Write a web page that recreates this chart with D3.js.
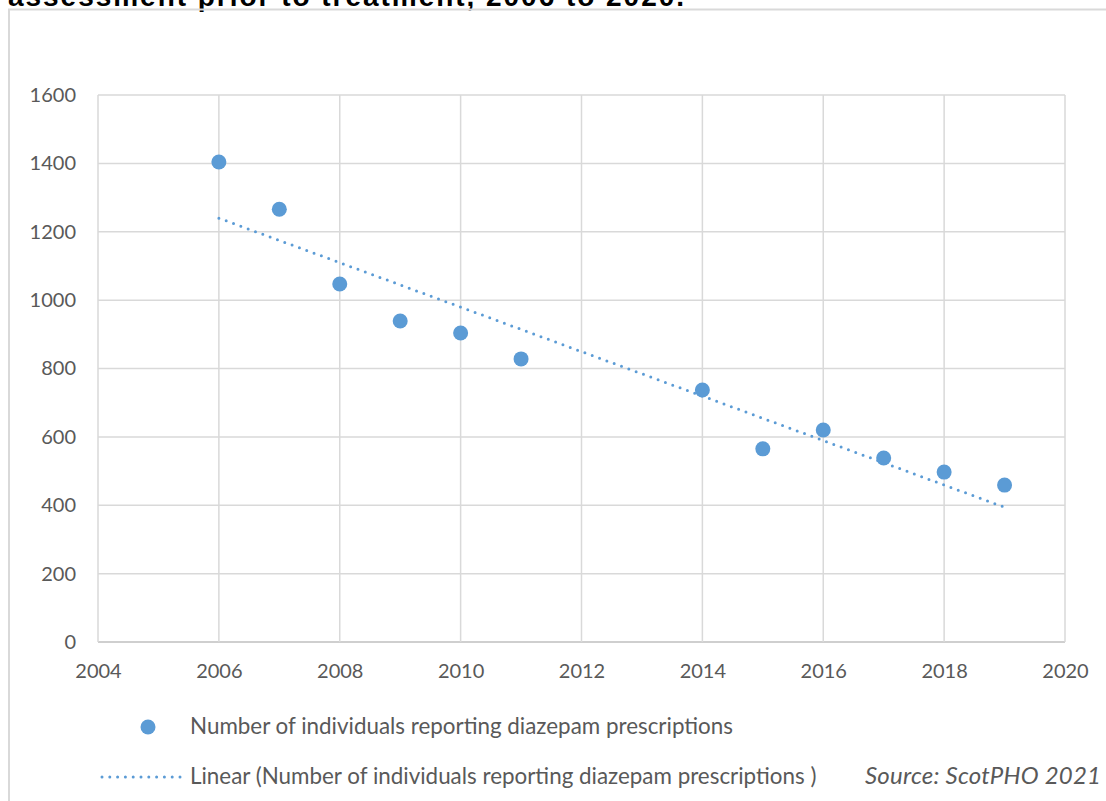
<!DOCTYPE html>
<html>
<head>
<meta charset="utf-8">
<script src="https://cdn.jsdelivr.net/npm/d3@7"></script>
<style>
	body { margin: 0; background: #fff; }
	svg { display: block; }
	text { font-family: Lato, "Open Sans", sans-serif; fill: #595959; }
</style>
</head>
<body>
<svg id="chart" width="1106" height="801"></svg>
<script>
// Data
const years = [2006, 2007, 2008, 2009, 2010, 2011, 2014, 2015, 2016, 2017, 2018, 2019];
const counts = [1404, 1266, 1047, 939, 904, 828, 737, 565, 620, 538, 497, 459];
const xTicks = [2004, 2006, 2008, 2010, 2012, 2014, 2016, 2018, 2020];
const yTicks = [0, 200, 400, 600, 800, 1000, 1200, 1400, 1600];

const titleText = "assessment prior to treatment, 2006 to 2020.";
const seriesName = "Number of individuals reporting diazepam prescriptions";
const trendName = "Linear (Number of individuals reporting diazepam prescriptions )";
const sourceText = "Source: ScotPHO 2021";

const svg = d3.select("#chart");
const blue = "#5b9bd5";
const grid = "#d9d9d9";

const x = d3.scaleLinear().domain([2004, 2020]).range([98, 1065]);
const y = d3.scaleLinear().domain([0, 1600]).range([642, 95]);

// title (cut off at the top in the original)
svg.append("text")
	.attr("x", 8).attr("y", 6)
	.attr("textLength", 676)
	.style("font-family", "'Liberation Sans', Arial, sans-serif")
	.style("font-weight", "bold")
	.style("font-size", "28px")
	.style("fill", "#000")
	.text(titleText);

// chart area border
svg.append("rect")
	.attr("x", 9).attr("y", 9.5)
	.attr("width", 1110).attr("height", 820)
	.attr("fill", "none")
	.attr("stroke", grid)
	.attr("stroke-width", 2);

// gridlines
svg.append("g")
	.selectAll("line")
	.data(yTicks)
	.join("line")
	.attr("x1", x(2004)).attr("x2", x(2020))
	.attr("y1", d => y(d)).attr("y2", d => y(d))
	.attr("stroke", d => d === 0 ? "#bfbfbf" : grid)
	.attr("stroke-width", 1.5);

svg.append("g")
	.selectAll("line")
	.data(xTicks)
	.join("line")
	.attr("x1", d => x(d)).attr("x2", d => x(d))
	.attr("y1", y(0)).attr("y2", y(1600))
	.attr("stroke", grid)
	.attr("stroke-width", 1.5);

// axes labels
const yAxis = d3.axisLeft(y).tickValues(yTicks).tickFormat(d3.format("d")).tickSize(0).tickPadding(22);
svg.append("g")
	.attr("transform", `translate(${x(2004)},0)`)
	.call(yAxis)
	.call(g => g.select(".domain").remove())
	.selectAll("text")
	.style("font-family", "Lato, sans-serif")
	.style("font-size", "20px")
	.attr("fill", "#595959");

const xAxis = d3.axisBottom(x).tickValues(xTicks).tickFormat(d3.format("d")).tickSize(0).tickPadding(22);
svg.append("g")
	.attr("transform", `translate(0,${y(0)})`)
	.call(xAxis)
	.call(g => g.select(".domain").remove())
	.selectAll("text")
	.style("font-family", "Lato, sans-serif")
	.style("font-size", "20px")
	.attr("fill", "#595959");

// linear trend (least squares, like Excel's trendline)
const mx = d3.mean(years), my = d3.mean(counts);
const slope = d3.sum(years, (v, i) => (v - mx) * (counts[i] - my)) / d3.sum(years, v => (v - mx) ** 2);
const intercept = my - slope * mx;
const trendYears = d3.extent(years);

svg.append("path")
	.datum(trendYears)
	.attr("d", d3.line().x(d => x(d)).y(d => y(intercept + slope * d)))
	.attr("fill", "none")
	.attr("stroke", blue)
	.attr("stroke-width", 3)
	.attr("stroke-linecap", "round")
	.attr("stroke-dasharray", "0 7.8");

// points
svg.append("g")
	.selectAll("circle")
	.data(years)
	.join("circle")
	.attr("cx", d => x(d))
	.attr("cy", (d, i) => y(counts[i]))
	.attr("r", 7.5)
	.attr("fill", blue);

// legend
const legend = svg.append("g");
legend.append("circle").attr("cx", 148).attr("cy", 727).attr("r", 7.5).attr("fill", blue);
legend.append("text").attr("x", 190).attr("y", 734).style("font-size", "22.4px").text(seriesName);
legend.append("line")
	.attr("x1", 102).attr("x2", 181).attr("y1", 777).attr("y2", 777)
	.attr("stroke", blue).attr("stroke-width", 3)
	.attr("stroke-linecap", "round").attr("stroke-dasharray", "0 7.8");
legend.append("text").attr("x", 190).attr("y", 784).style("font-size", "22.4px").text(trendName);

svg.append("text")
	.attr("x", 1101).attr("y", 784)
	.attr("text-anchor", "end")
	.attr("textLength", 236)
	.style("font-size", "24px")
	.style("font-style", "italic")
	.text(sourceText);
</script>
</body>
</html>
